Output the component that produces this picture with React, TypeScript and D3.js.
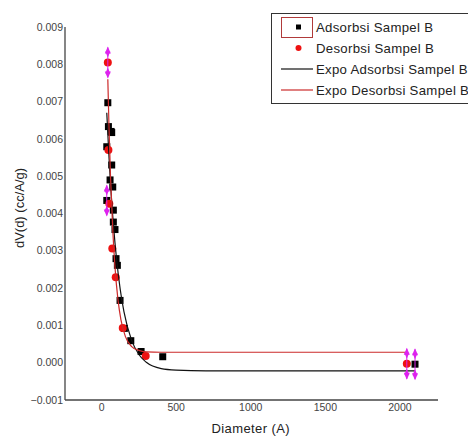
import React from "react";
import * as d3 from "d3";

// adsorption points (black squares)
const adsDiameter = [42, 46, 64, 68, 35, 68, 57, 75, 35, 79, 79, 90, 97, 106, 124, 153, 196, 265, 410, 2101];
const adsValue = [0.00697, 0.00633, 0.0062, 0.00617, 0.00579, 0.0053, 0.0049, 0.00471, 0.00435, 0.00409, 0.00377, 0.00357, 0.00279, 0.00261, 0.00167, 0.00092, 0.00059, 0.0003, 0.00016, -0.00004];

// desorption points (red circles)
const desDiameter = [42, 46, 52, 72, 95, 142, 296, 2046];
const desValue = [0.00805, 0.0057, 0.00426, 0.00306, 0.00229, 0.00093, 0.00018, -0.00003];

// fitted exponential curves
const adsFitDiameter = [35, 50, 60, 80, 100, 125, 150, 200, 250, 300, 400, 500, 700, 1000, 2101];
const adsFitValue = [0.0067, 0.0055, 0.0048, 0.00368, 0.0028, 0.00197, 0.00137, 0.00062, 0.00022, 0.00001, -0.00016, -0.0002, -0.00022, -0.00022, -0.00022];
const desFitDiameter = [42, 50, 60, 75, 90, 110, 130, 160, 200, 250, 300, 400, 2046];
const desFitValue = [0.0076, 0.0063, 0.005, 0.00357, 0.00257, 0.00169, 0.00115, 0.0007, 0.00044, 0.00033, 0.00029, 0.00028, 0.00028];

// fit range markers (magenta arrows)
const markerDiameter = [42, 35, 2046, 2101];
const markerValue = [0.00805, 0.00435, -0.00003, -0.00004];

const xTicks = [0, 500, 1000, 1500, 2000];
const yTicks = [-0.001, 0, 0.001, 0.002, 0.003, 0.004, 0.005, 0.006, 0.007, 0.008, 0.009];

const legendLabels = ["Adsorbsi Sampel B", "Desorbsi Sampel B", "Expo Adsorbsi Sampel B", "Expo Desorbsi Sampel B"];

const WIDTH = 468;
const HEIGHT = 436;
const FONT = "'Liberation Sans', Arial, sans-serif";

export default function App() {
  const x = d3.scaleLinear().domain([-245, 2255]).range([65, 438]);
  const y = d3.scaleLinear().domain([-0.001, 0.009]).range([400, 27]);

  const line = d3.line<[number, number]>()
    .x(d => x(d[0]))
    .y(d => y(d[1]))
    .curve(d3.curveMonotoneX);

  const adsFit = adsFitDiameter.map((d, i) => [d, adsFitValue[i]] as [number, number]);
  const desFit = desFitDiameter.map((d, i) => [d, desFitValue[i]] as [number, number]);

  const x0 = x.range()[0], x1 = x.range()[1];
  const yBottom = y.range()[0], yTop = y.range()[1];

  return (
    <svg width={WIDTH} height={HEIGHT}
      style={{ position: "absolute", left: 0, top: 0, background: "#fff" }}
      fontFamily={FONT}>
      {/* axes */}
      <line x1={x0} x2={x0} y1={yTop} y2={yBottom} stroke="#444" strokeWidth={1.3} />
      <line x1={x0} x2={x1} y1={yBottom} y2={yBottom} stroke="#444" strokeWidth={1.3} />
      {yTicks.map(t => (
        <text key={t} x={x0 - 2} y={y(t)} dy="0.35em" textAnchor="end" fontSize={10.5} fill="#444">
          {d3.format(".3f")(t)}
        </text>
      ))}
      {xTicks.map(t => (
        <text key={t} x={x(t)} y={yBottom + 11} textAnchor="middle" fontSize={10.5} fill="#444">
          {t}
        </text>
      ))}
      <text x={x(1000)} y={433} textAnchor="middle" fontSize={13} fill="#222" letterSpacing={0.4}>Diameter (A)</text>
      <text transform={`translate(24, 208) rotate(-90)`} textAnchor="middle" fontSize={13} fill="#222">dV(d) (cc/A/g)</text>

      {/* points */}
      {adsDiameter.map((d, i) => (
        <rect key={"a" + i} x={x(d) - 3.5} y={y(adsValue[i]) - 3.5} width={7} height={7} fill="#000" />
      ))}
      {desDiameter.map((d, i) => (
        <circle key={"d" + i} cx={x(d)} cy={y(desValue[i])} r={4} fill="#ee1111" />
      ))}

      {/* fit curves */}
      <path d={line(adsFit) ?? ""} fill="none" stroke="#111" strokeWidth={1.2} />
      <path d={line(desFit) ?? ""} fill="none" stroke="#cc2a2a" strokeWidth={1.2} />

      {/* fit range markers */}
      {markerDiameter.map((d, i) => {
        const cx = x(d), cy = y(markerValue[i]);
        return (
          <g key={"m" + i} fill="#dd22ee" stroke="#dd22ee">
            <line x1={cx} x2={cx} y1={cy - 15} y2={cy + 15} strokeWidth={1} />
            <path d={`M${cx},${cy - 16}L${cx - 3},${cy - 9}L${cx + 3},${cy - 9}Z`} stroke="none" />
            <path d={`M${cx},${cy + 16}L${cx - 3},${cy + 9}L${cx + 3},${cy + 9}Z`} stroke="none" />
            <path d={`M${cx},${cy - 5}L${cx - 2.5},${cy - 11}L${cx + 2.5},${cy - 11}Z`} stroke="none" />
            <path d={`M${cx},${cy + 5}L${cx - 2.5},${cy + 11}L${cx + 2.5},${cy + 11}Z`} stroke="none" />
          </g>
        );
      })}

      {/* legend */}
      <g>
        <rect x={271.5} y={13.5} width={220} height={90} fill="#fff" stroke="#333" strokeWidth={1} />
        <rect x={281.5} y={17.5} width={31} height={20} fill="none" stroke="#b03a3a" strokeWidth={1} />
        <rect x={296} y={24.5} width={5} height={5} fill="#000" />
        <circle cx={298.5} cy={48} r={3} fill="#ee1111" />
        <line x1={281} x2={313} y1={69} y2={69} stroke="#111" strokeWidth={1.2} />
        <line x1={281} x2={313} y1={90} y2={90} stroke="#cc2a2a" strokeWidth={1.2} />
        {legendLabels.map((l, i) => (
          <text key={l} x={316} y={27.5 + i * 20.8} dy="0.35em" fontSize={13.2} fill="#222" letterSpacing={0.3}>{l}</text>
        ))}
      </g>
    </svg>
  );
}
